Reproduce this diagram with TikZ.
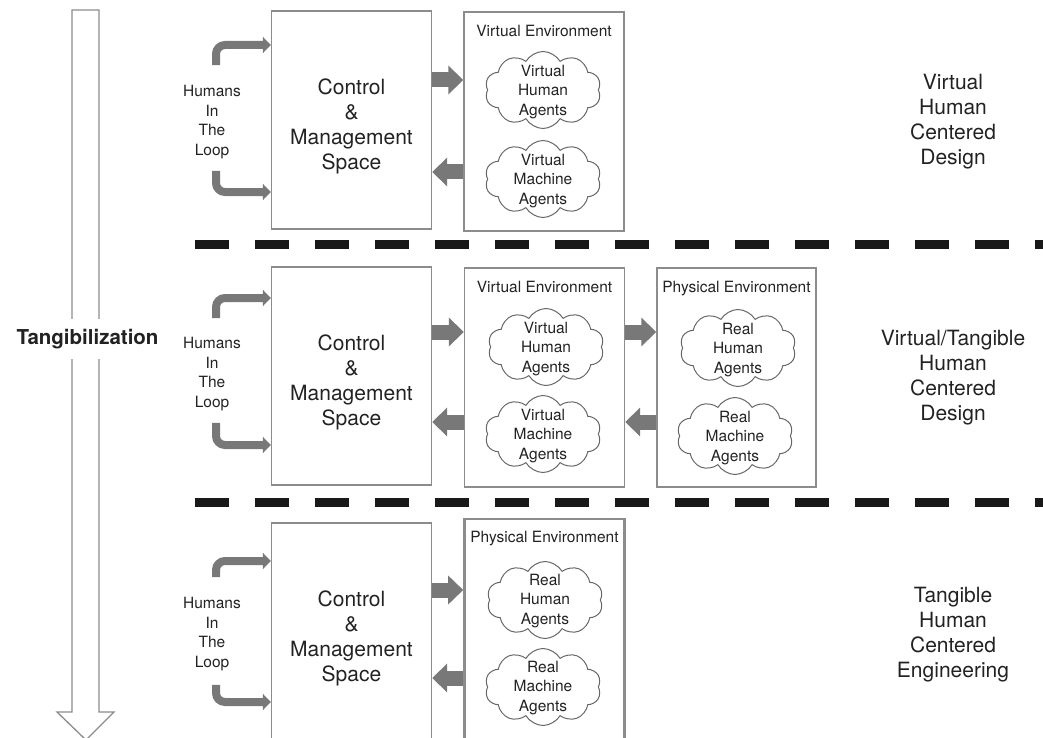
\documentclass[tikz,border=0pt]{standalone}
\usepackage{fontspec}
\setmainfont{TeX Gyre Heros}
\usetikzlibrary{arrows.meta,shapes.symbols,positioning}
\definecolor{boxgray}{HTML}{8C8C8C}
\definecolor{arrgray}{HTML}{787878}
\definecolor{inkgray}{HTML}{222222}
\begin{document}
\begin{tikzpicture}[x=1pt,y=-1pt,
  cmbox/.style={draw=boxgray,line width=1.4pt,minimum width=160pt,minimum height=218pt},
  cmtext/.style={align=center,text=inkgray,inner sep=0pt,font=\fontsize{21}{25}\selectfont},
  envbox/.style={draw=boxgray,line width=1.4pt,minimum width=160pt,minimum height=219pt},
  envtitle/.style={text=inkgray,inner sep=0pt,font=\fontsize{15.5}{19}\selectfont},
  agentcloud/.style={cloud,cloud puffs=10,cloud puff arc=120,aspect=1.5,draw=black!60,line width=1pt,minimum width=116pt,minimum height=77pt},
  agenttext/.style={align=center,text=inkgray,inner sep=0pt,font=\fontsize{15.5}{19.5}\selectfont},
  looptext/.style={align=center,text=inkgray,inner sep=0pt,font=\fontsize{15.5}{19.5}\selectfont},
  sidetext/.style={align=center,text=inkgray,inner sep=0pt,font=\fontsize{21}{25}\selectfont},
  blockarr/.style={draw=arrgray,line width=15pt,-{Triangle[width=28pt,length=15pt]}},
  bentarr/.style={draw=arrgray,line width=8pt,rounded corners=9pt,-{Triangle[width=16pt,length=8pt]}},
  divider/.style={line width=8.5pt,black!90,dash pattern=on 34pt off 26pt}]
\useasboundingbox (0,0) rectangle (1043,738);

% tangibilization arrow
\draw[boxgray,line width=1.3pt,fill=white](72,10)--(99,10)--(99,712)--(114,712)--(86,740)--(57,712)--(72,712)--cycle;
\node[text=inkgray,fill=white,inner xsep=0pt,inner ysep=10pt,font=\fontsize{20.5}{24}\selectfont\bfseries] at (87.5,339) (tang) {Tangibilization};

% dividers
\draw[divider](195,244.5)--(1043,244.5);
\draw[divider](195,502.5)--(1043,502.5);

% row 1
\node[cmbox] at (351.5,120) (cm1) {};
\node[cmtext] at ([yshift=-6.5pt]cm1.center) (cmt1) {Control\\\&\\Management\\Space};
\node[envbox] at (544,121.5) (ve1) {};
\node[envtitle,below=13.5pt of ve1.north] (vet1) {Virtual Environment};
\node[agentcloud] at (543,90) (vh1) {};
\node[agenttext] at ([yshift=-2pt]vh1.center) (vh1t) {Virtual\\Human\\Agents};
\node[agentcloud] at (543,179) (vm1) {};
\node[agenttext] at ([yshift=-2pt]vm1.center) (vm1t) {Virtual\\Machine\\Agents};
\node[looptext] at (212,122) (hl1) {Humans\\In\\The\\Loop};
\draw[bentarr]([xshift=4pt,yshift=20pt]hl1.north) |- ([yshift=75pt]cm1.west);
\draw[bentarr]([xshift=4pt,yshift=-12pt]hl1.south) |- ([yshift=-72pt]cm1.west);
\path([yshift=40pt]cm1.east) coordinate (in1) ([yshift=-52pt]cm1.east) coordinate (out1);
\draw[blockarr](in1) -- (in1 -| ve1.west);
\draw[blockarr](out1 -| ve1.west) -- (out1);
\node[sidetext] at (953,121.5) (side1) {Virtual\\Human\\Centered\\Design};

% row 2
\node[cmbox] at (351.5,376) (cm2) {};
\node[cmtext] at ([yshift=-6.5pt]cm2.center) (cmt2) {Control\\\&\\Management\\Space};
\node[envbox] at (544.5,377.5) (ve2) {};
\node[envtitle,below=13.5pt of ve2.north] (vet2) {Virtual Environment};
\node[envbox,minimum width=159pt] at (736.5,377.5) (pe2) {};
\node[envtitle,below=13.5pt of pe2.north] (pet2) {Physical Environment};
\node[agentcloud] at (546,347) (vh2) {};
\node[agenttext] at ([yshift=-2pt]vh2.center) (vh2t) {Virtual\\Human\\Agents};
\node[agentcloud] at (543,434) (vm2) {};
\node[agenttext] at ([yshift=-2pt]vm2.center) (vm2t) {Virtual\\Machine\\Agents};
\node[agentcloud] at (738,348) (rh2) {};
\node[agenttext] at ([yshift=-2pt]rh2.center) (rh2t) {Real\\Human\\Agents};
\node[agentcloud] at (735,436) (rm2) {};
\node[agenttext] at ([yshift=-2pt]rm2.center) (rm2t) {Real\\Machine\\Agents};
\node[looptext] at (212,374) (hl2) {Humans\\In\\The\\Loop};
\draw[bentarr]([xshift=4pt,yshift=19pt]hl2.north) |- ([yshift=78pt]cm2.west);
\draw[bentarr]([xshift=4pt,yshift=-12pt]hl2.south) |- ([yshift=-69pt]cm2.west);
\path([yshift=44pt]cm2.east) coordinate (in2) ([yshift=-46pt]cm2.east) coordinate (out2);
\draw[blockarr](in2) -- (in2 -| ve2.west);
\draw[blockarr](out2 -| ve2.west) -- (out2);
\draw[blockarr](in2 -| ve2.east) -- (in2 -| pe2.west);
\draw[blockarr](out2 -| pe2.west) -- (out2 -| ve2.east);
\node[sidetext] at (953,377.5) (side2) {Virtual/Tangible\\Human\\Centered\\Design};

% row 3
\node[cmbox] at (351.5,632) (cm3) {};
\node[cmtext] at ([yshift=-6.5pt]cm3.center) (cmt3) {Control\\\&\\Management\\Space};
\node[envbox,line width=2.6pt,minimum height=230pt] at (544.5,634) (pe3) {};
\node[envtitle,below=13.5pt of pe3.north] (pet3) {Physical Environment};
\node[agentcloud] at (545,600) (rh3) {};
\node[agenttext] at ([yshift=-1pt]rh3.center) (rh3t) {Real\\Human\\Agents};
\node[agentcloud] at (543,687) (rm3) {};
\node[agenttext] at ([yshift=-1pt]rm3.center) (rm3t) {Real\\Machine\\Agents};
\node[looptext] at (212,634) (hl3) {Humans\\In\\The\\Loop};
\draw[bentarr]([xshift=4pt,yshift=20pt]hl3.north) |- ([yshift=71pt]cm3.west);
\draw[bentarr]([xshift=4pt,yshift=-14pt]hl3.south) |- ([yshift=-70pt]cm3.west);
\path([yshift=42pt]cm3.east) coordinate (in3) ([yshift=-46pt]cm3.east) coordinate (out3);
\draw[blockarr](in3) -- (in3 -| pe3.west);
\draw[blockarr](out3 -| pe3.west) -- (out3);
\node[sidetext] at (953,634.5) (side3) {Tangible\\Human\\Centered\\Engineering};
\end{tikzpicture}
\end{document}
